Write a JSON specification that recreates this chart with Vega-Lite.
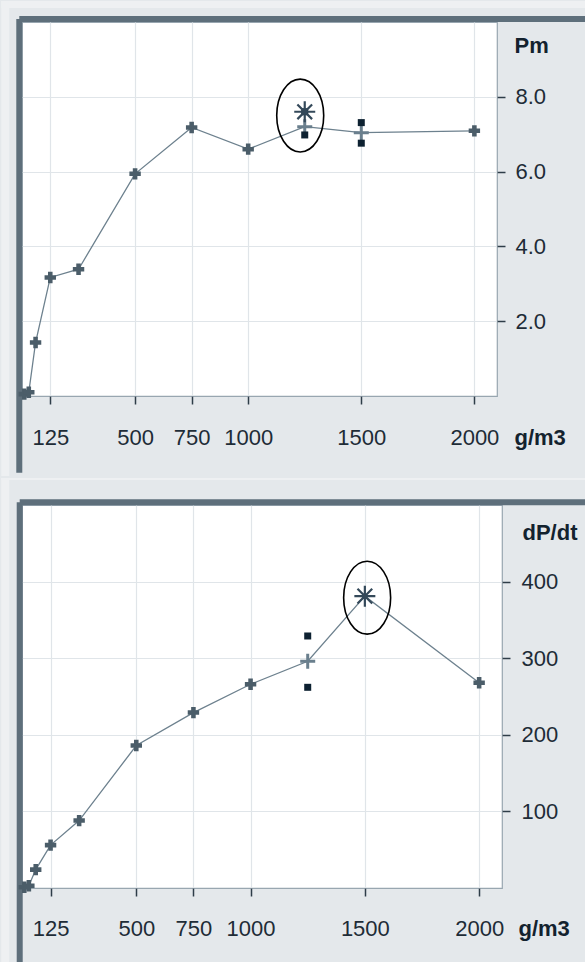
{
  "$schema": "https://vega.github.io/schema/vega-lite/v6.json",
  "background": "#e4e8eb",
  "padding": 0,
  "spacing": 0,
  "config": {
    "view": {"fill": "white", "stroke": "#98a6b0", "strokeWidth": 1.2},
    "font": "Liberation Sans",
    "axis": {
      "labelFont": "Liberation Sans",
      "labelFontSize": 22,
      "labelColor": "#1e2c37",
      "tickColor": "#2e3d48",
      "tickWidth": 1.5,
      "gridColor": "#e0e5e9",
      "gridWidth": 1.2,
      "titleFont": "Liberation Sans",
      "titleFontSize": 22,
      "titleFontWeight": "bold",
      "titleColor": "#13222e"
    }
  },
  "datasets": {
    "pm": [
      {"c": 10, "v": 0.05, "s": "line", "t": "m"},
      {"c": 30, "v": 0.1, "s": "line", "t": "m"},
      {"c": 60, "v": 1.43, "s": "line", "t": "m"},
      {"c": 125, "v": 3.17, "s": "line", "t": "m"},
      {"c": 250, "v": 3.39, "s": "line", "t": "m"},
      {"c": 500, "v": 5.94, "s": "line", "t": "m"},
      {"c": 750, "v": 7.18, "s": "line", "t": "m"},
      {"c": 1000, "v": 6.6, "s": "line", "t": "m"},
      {"c": 1250, "v": 7.2, "s": "line", "t": "p"},
      {"c": 1500, "v": 7.04, "s": "line", "t": "p"},
      {"c": 2000, "v": 7.09, "s": "line", "t": "m"},
      {"c": 1250, "v": 7.6, "s": "err", "t": "e"},
      {"c": 1250, "v": 6.98, "s": "err", "t": "e"},
      {"c": 1500, "v": 7.31, "s": "err", "t": "e"},
      {"c": 1500, "v": 6.76, "s": "err", "t": "e"},
      {"c": 1250, "v": 7.6, "s": "best", "t": "b"},
      {"c": 1230, "v": 7.5, "s": "ring", "t": "r"},
      {"c": -91.7, "c2": -56.4, "v": 10.561, "v2": -2.139, "s": "outer", "t": "o"},
      {"c": -91.7, "c2": 2494.6, "v": 10.561, "v2": 10.374, "s": "outer", "t": "o"},
      {"c": -12, "v": -2.05, "v2": 10.08, "s": "frameL", "t": "f"},
      {"c": -12, "c2": 2494.6, "v": 10.08, "s": "frameT", "t": "f"}
    ],
    "dp": [
      {"c": 10, "v": 1, "s": "line", "t": "m"},
      {"c": 30, "v": 3, "s": "line", "t": "m"},
      {"c": 60, "v": 24, "s": "line", "t": "m"},
      {"c": 125, "v": 56, "s": "line", "t": "m"},
      {"c": 250, "v": 88, "s": "line", "t": "m"},
      {"c": 500, "v": 186, "s": "line", "t": "m"},
      {"c": 750, "v": 229, "s": "line", "t": "m"},
      {"c": 1000, "v": 266, "s": "line", "t": "m"},
      {"c": 1250, "v": 296, "s": "line", "t": "p"},
      {"c": 1500, "v": 381, "s": "line", "t": "s"},
      {"c": 2000, "v": 268, "s": "line", "t": "m"},
      {"c": 1250, "v": 329, "s": "err", "t": "e"},
      {"c": 1250, "v": 262, "s": "err", "t": "e"},
      {"c": 1500, "v": 381, "s": "best", "t": "b"},
      {"c": 1510, "v": 379, "s": "ring", "t": "r"},
      {"c": -90.8, "c2": 2468.6, "v": 535.2, "v2": 532.6, "s": "outer", "t": "o"},
      {"c": -90.8, "c2": -55.8, "v": 535.2, "v2": -100.5, "s": "outer", "t": "o"},
      {"c": -10, "v": -100.5, "v2": 503.5, "s": "frameL", "t": "f"},
      {"c": -10, "c2": 2468.6, "v": 503.5, "s": "frameT", "t": "f"}
    ]
  },
  "vconcat": [
    {
      "width": 475,
      "height": 374,
      "data": {"name": "pm"},
      "encoding": {
        "x": {
          "field": "c", "type": "quantitative",
          "scale": {"domain": [0, 2100], "nice": false, "zero": false},
          "axis": {
            "values": [125, 500, 750, 1000, 1500, 2000], "format": "d",
            "grid": true, "domain": false, "tickSize": 8,
            "labelPadding": 33, "labelBaseline": "middle", "labelFlush": false,
            "title": "g/m3", "titleAngle": 0, "titleAlign": "left", "titleBaseline": "middle",
            "titleX": 492, "titleY": 41
          }
        },
        "y": {
          "field": "v", "type": "quantitative",
          "scale": {"domain": [0, 10], "nice": false},
          "axis": {
            "orient": "right", "values": [2, 4, 6, 8], "format": ".1f",
            "grid": true, "domain": false, "tickSize": 8, "labelPadding": 10,
            "title": "Pm", "titleAngle": 0, "titleAlign": "left", "titleBaseline": "middle",
            "titleX": 17, "titleY": 23
          }
        }
      },
      "layer": [
        {
          "transform": [{"filter": "datum.s == 'outer'"}],
          "mark": {"type": "rect", "color": "#eef0f2", "opacity": 1, "clip": false},
          "encoding": {"x2": {"field": "c2"}, "y2": {"field": "v2"}}
        },
        {
          "transform": [{"filter": "datum.s == 'line'"}],
          "mark": {"type": "line", "color": "#6d818e", "strokeWidth": 1.3}
        },
        {
          "transform": [{"filter": "datum.s == 'frameL'"}],
          "mark": {"type": "rule", "color": "#5e6f7b", "strokeWidth": 6, "clip": false},
          "encoding": {"y2": {"field": "v2"}}
        },
        {
          "transform": [{"filter": "datum.s == 'frameT'"}],
          "mark": {"type": "rule", "color": "#5e6f7b", "strokeWidth": 6, "clip": false},
          "encoding": {"x2": {"field": "c2"}}
        },
        {
          "transform": [{"filter": "datum.t == 'm'"}],
          "mark": {"type": "point", "shape": "cross", "filled": true, "size": 130, "color": "#4b5d69", "opacity": 1}
        },
        {
          "transform": [{"filter": "datum.t == 'p'"}],
          "mark": {"type": "point", "shape": "M -1 0 L 1 0 M 0 -1 L 0 1", "filled": false, "size": 225, "color": "#6a7f8d", "strokeWidth": 3, "opacity": 1}
        },
        {
          "transform": [{"filter": "datum.s == 'err'"}],
          "mark": {"type": "square", "size": 49, "color": "#0d2131", "opacity": 1}
        },
        {
          "transform": [{"filter": "datum.s == 'best'"}],
          "mark": {"type": "point", "shape": "M -1 0 L 1 0 M 0 -1 L 0 1 M -0.7 -0.7 L 0.7 0.7 M -0.7 0.7 L 0.7 -0.7", "filled": false, "size": 441, "color": "#34495a", "strokeWidth": 2.2, "opacity": 1}
        },
        {
          "transform": [{"filter": "datum.s == 'ring'"}],
          "mark": {"type": "point", "shape": "M 0 -1.55 A 1 1.55 0 1 1 0 1.55 A 1 1.55 0 1 1 0 -1.55 Z", "filled": false, "size": 2209, "color": "#000000", "strokeWidth": 1.6, "opacity": 1}
        }
      ]
    },
    {
      "width": 480,
      "height": 383,
      "data": {"name": "dp"},
      "encoding": {
        "x": {
          "field": "c", "type": "quantitative",
          "scale": {"domain": [0, 2100], "nice": false, "zero": false},
          "axis": {
            "values": [125, 500, 750, 1000, 1500, 2000], "format": "d",
            "grid": true, "domain": false, "tickSize": 8,
            "labelPadding": 32, "labelBaseline": "middle", "labelFlush": false,
            "title": "g/m3", "titleAngle": 0, "titleAlign": "left", "titleBaseline": "middle",
            "titleX": 496, "titleY": 40
          }
        },
        "y": {
          "field": "v", "type": "quantitative",
          "scale": {"domain": [0, 500], "nice": false},
          "axis": {
            "orient": "right", "values": [100, 200, 300, 400], "format": "d",
            "grid": true, "domain": false, "tickSize": 8, "labelPadding": 11,
            "title": "dP/dt", "titleAngle": 0, "titleAlign": "left", "titleBaseline": "middle",
            "titleX": 20, "titleY": 27
          }
        }
      },
      "layer": [
        {
          "transform": [{"filter": "datum.s == 'outer'"}],
          "mark": {"type": "rect", "color": "#eef0f2", "opacity": 1, "clip": false},
          "encoding": {"x2": {"field": "c2"}, "y2": {"field": "v2"}}
        },
        {
          "transform": [{"filter": "datum.s == 'line'"}],
          "mark": {"type": "line", "color": "#6d818e", "strokeWidth": 1.3}
        },
        {
          "transform": [{"filter": "datum.s == 'frameL'"}],
          "mark": {"type": "rule", "color": "#5e6f7b", "strokeWidth": 6, "clip": false},
          "encoding": {"y2": {"field": "v2"}}
        },
        {
          "transform": [{"filter": "datum.s == 'frameT'"}],
          "mark": {"type": "rule", "color": "#5e6f7b", "strokeWidth": 6, "clip": false},
          "encoding": {"x2": {"field": "c2"}}
        },
        {
          "transform": [{"filter": "datum.t == 'm'"}],
          "mark": {"type": "point", "shape": "cross", "filled": true, "size": 130, "color": "#4b5d69", "opacity": 1}
        },
        {
          "transform": [{"filter": "datum.t == 'p'"}],
          "mark": {"type": "point", "shape": "M -1 0 L 1 0 M 0 -1 L 0 1", "filled": false, "size": 225, "color": "#6a7f8d", "strokeWidth": 3, "opacity": 1}
        },
        {
          "transform": [{"filter": "datum.s == 'err'"}],
          "mark": {"type": "square", "size": 49, "color": "#0d2131", "opacity": 1}
        },
        {
          "transform": [{"filter": "datum.s == 'best'"}],
          "mark": {"type": "point", "shape": "M -1 0 L 1 0 M 0 -1 L 0 1 M -0.7 -0.7 L 0.7 0.7 M -0.7 0.7 L 0.7 -0.7", "filled": false, "size": 441, "color": "#34495a", "strokeWidth": 2.2, "opacity": 1}
        },
        {
          "transform": [{"filter": "datum.s == 'ring'"}],
          "mark": {"type": "point", "shape": "M 0 -1.55 A 1 1.55 0 1 1 0 1.55 A 1 1.55 0 1 1 0 -1.55 Z", "filled": false, "size": 2209, "color": "#000000", "strokeWidth": 1.6, "opacity": 1}
        }
      ]
    }
  ]
}
